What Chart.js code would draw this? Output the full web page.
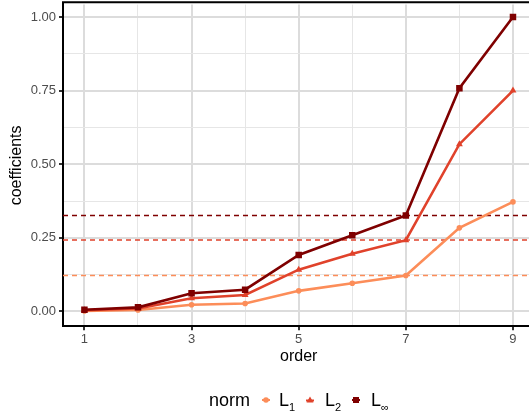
<!DOCTYPE html>
<html>
<head>
<meta charset="utf-8">
<script src="https://cdn.jsdelivr.net/npm/chart.js@4/dist/chart.umd.min.js"></script>
<style>
  html, body { margin: 0; padding: 0; background: #fff; overflow: hidden; }
  #wrap { position: relative; width: 529px; height: 416px; overflow: hidden; }
  canvas { position: absolute; left: 0; top: 0; }
  .legend > * { position: absolute; }
  .legend span {
    font-family: "Liberation Sans", Arial, sans-serif; font-size: 18px; line-height: 18px;
    color: #000; white-space: nowrap; top: 391px;
  }
  .legend svg { top: 395px; }
  .legend sub { font-size: 11px; vertical-align: -5px; line-height: 0; }
</style>
</head>
<body>
<div id="wrap">
  <canvas id="chart" width="539" height="416"></canvas>
  <div class="legend">
    <span style="left:209px">norm</span>
    <svg style="left:260px" width="12" height="10"><line x1="2" y1="5" x2="10" y2="5" stroke="#FC8D59" stroke-width="2"/><circle cx="6" cy="5" r="2.8" fill="#FC8D59"/></svg>
    <span style="left:279px">L<sub>1</sub></span>
    <svg style="left:304px" width="12" height="10"><line x1="2" y1="5.5" x2="10" y2="5.5" stroke="#E0422B" stroke-width="2"/><polygon points="6,1.5 9.5,7.5 2.5,7.5" fill="#E0422B"/></svg>
    <span style="left:325px">L<sub>2</sub></span>
    <svg style="left:350px" width="12" height="10"><line x1="2" y1="5" x2="10" y2="5" stroke="#7F0000" stroke-width="2"/><rect x="3" y="2" width="6" height="6" fill="#7F0000"/></svg>
    <span style="left:371px">L<sub>∞</sub></span>
  </div>
</div>
<script>
// data
const orders = [1, 2, 3, 4, 5, 6, 7, 8, 9];
const l1Values = [0.002, 0.005, 0.023, 0.027, 0.070, 0.096, 0.122, 0.284, 0.372];
const l2Values = [0.004, 0.010, 0.045, 0.056, 0.142, 0.196, 0.242, 0.568, 0.750];
const linfValues = [0.006, 0.014, 0.062, 0.074, 0.192, 0.259, 0.326, 0.758, 1.000];
const refLines = [0.122, 0.243, 0.326];
const xTickValues = [1, 2, 3, 4, 5, 6, 7, 8, 9];
const yTickValues = [0, 0.125, 0.25, 0.375, 0.5, 0.625, 0.75, 0.875, 1];

const colours = ['#FC8D59', '#E0422B', '#7F0000'];
const font = "'Liberation Sans', Arial, sans-serif";

const toPoints = (vals) => orders.map((o, i) => ({ x: o, y: vals[i] }));

// dashed reference lines + top border
const extras = {
  id: 'extras',
  beforeDatasetsDraw(chart) {
    const { ctx, chartArea } = chart;
    const y = chart.scales.y;
    ctx.save();
    ctx.lineWidth = 1.5;
    ctx.setLineDash([5, 4]);
    refLines.forEach((v, i) => {
      const py = y.getPixelForValue(v);
      ctx.strokeStyle = colours[i];
      ctx.beginPath();
      ctx.moveTo(chartArea.left, py);
      ctx.lineTo(chartArea.right, py);
      ctx.stroke();
    });
    ctx.restore();
  },
  afterDraw(chart) {
    const { ctx, chartArea } = chart;
    const top = chart.scales.y.getPixelForValue(1.05);
    ctx.save();
    ctx.strokeStyle = '#000';
    ctx.lineWidth = 2;
    ctx.beginPath();
    ctx.moveTo(chartArea.left - 1, top);
    ctx.lineTo(chartArea.right, top);
    ctx.moveTo(chartArea.left, top);
    ctx.lineTo(chartArea.left, chartArea.top);
    ctx.stroke();
    ctx.restore();
  }
};

const isMajorX = (v) => v % 2 === 1;
const isMajorY = (v) => Math.round(v * 8) % 2 === 0;

const ctx = document.querySelector('#chart').getContext('2d');
const chart = new Chart(ctx, {
  type: 'line',
  data: {
    datasets: [
      { label: 'L1', data: toPoints(l1Values), borderColor: colours[0], backgroundColor: colours[0],
        pointStyle: 'circle', pointRadius: 2.8, order: 3 },
      { label: 'L2', data: toPoints(l2Values), borderColor: colours[1], backgroundColor: colours[1],
        pointStyle: 'triangle', pointRadius: 4, order: 2 },
      { label: 'Linf', data: toPoints(linfValues), borderColor: colours[2], backgroundColor: colours[2],
        pointStyle: 'rect', pointRadius: 4.6, order: 1 },
    ],
  },
  options: {
    responsive: false,
    animation: false,
    devicePixelRatio: 1,
    elements: {
      line: { borderWidth: 2.6, tension: 0 },
      point: { borderWidth: 0, hoverRadius: 4 },
    },
    layout: { padding: { top: 1, right: 0, bottom: 49.8, left: 0 } },
    plugins: { legend: { display: false }, tooltip: { enabled: false } },
    scales: {
      x: {
        type: 'linear',
        min: 0.6,
        max: 9.4,
        afterBuildTicks: (scale) => { scale.ticks = xTickValues.map((v) => ({ value: v })); },
        afterFit: (scale) => { scale.height = 40; },
        ticks: {
          callback: (v) => (isMajorX(v) ? String(v) : ''),
          color: '#4D4D4D', font: { family: font, size: 13 }, padding: 1, maxRotation: 0, autoSkip: false,
        },
        grid: {
          color: (c) => (isMajorX(c.tick.value) ? '#DCDCDC' : '#E6E6E6'),
          lineWidth: (c) => (isMajorX(c.tick.value) ? 2 : 1),
          tickColor: (c) => (isMajorX(c.tick.value) ? '#333333' : 'rgba(0,0,0,0)'),
          tickLength: 4,
        },
        border: { color: '#000', width: 2 },
        title: { display: true, text: 'order', color: '#000', font: { family: font, size: 16 }, padding: { top: 0, bottom: 0 } },
      },
      y: {
        type: 'linear',
        min: -0.05,
        max: 1.042,
        afterBuildTicks: (scale) => { scale.ticks = yTickValues.map((v) => ({ value: v })); },
        afterFit: (scale) => { scale.width = 63; scale.paddingTop = 0; scale.paddingBottom = 0; },
        ticks: {
          callback: (v) => (isMajorY(v) ? v.toFixed(2) : ''),
          color: '#4D4D4D', font: { family: font, size: 13 }, padding: 3, autoSkip: false,
        },
        grid: {
          color: (c) => (isMajorY(c.tick.value) ? '#DCDCDC' : '#E6E6E6'),
          lineWidth: (c) => (isMajorY(c.tick.value) ? 2 : 1),
          tickColor: (c) => (isMajorY(c.tick.value) ? '#333333' : 'rgba(0,0,0,0)'),
          tickLength: 4,
        },
        border: { color: '#000', width: 2 },
        title: { display: true, text: 'coefficients', color: '#000', font: { family: font, size: 16 }, padding: { top: 7, bottom: 0 } },
      },
    },
  },
  plugins: [extras],
});
</script>
</body>
</html>
